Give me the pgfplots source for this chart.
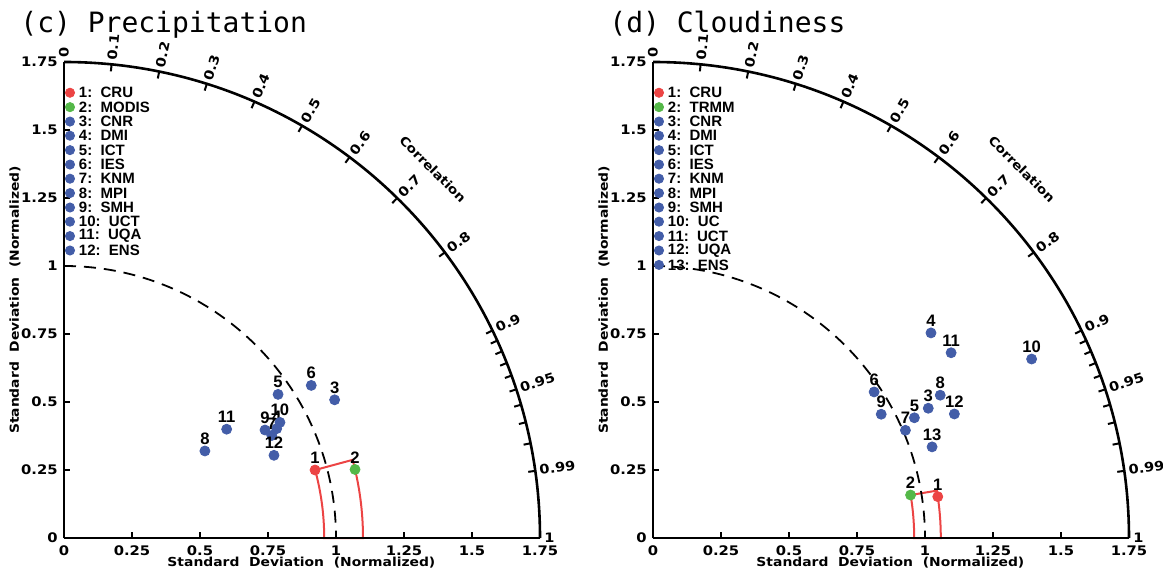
\documentclass[border=0pt]{standalone}
\usepackage{pgfplots}
\pgfplotsset{compat=1.18}
\usepackage{fontspec}
\setmainfont{Liberation Sans}
\newfontfamily\tickfam[FakeStretch=1.12]{DejaVu Sans}
\newfontfamily\titlefam{DejaVu Sans Mono}
\newfontfamily\legfam{Liberation Sans}
\definecolor{cred}{RGB}{236,68,68}
\definecolor{cgreen}{RGB}{84,184,72}
\definecolor{cblue}{RGB}{67,93,168}
\newcommand\tickfont{\tickfam\bfseries\fontsize{6.6pt}{7pt}\selectfont}
\newcommand\labfont{\tickfam\bfseries\fontsize{6.2pt}{7pt}\selectfont}
\newcommand\corrfont{\tickfam\bfseries\fontsize{6.5pt}{7pt}\selectfont}
\newcommand\legfont{\legfam\bfseries\fontsize{7.5pt}{8pt}\selectfont}
\newcommand\numfont{\legfam\bfseries\fontsize{8.3pt}{9pt}\selectfont}
\newcommand\titlefont{\titlefam\fontsize{14pt}{16pt}\selectfont}

% background of one Taylor panel: #1 x offset, #2 inner radius, #3 outer radius, #4 angle, #5 title
\newcommand\taylorbg[5]{%
\begin{scope}[shift={(#1,0)}]
  \draw[cred, line width=1pt] (0:#2) arc[start angle=0,end angle=#4,radius=#2] -- (#4:#3) arc[start angle=#4,end angle=0,radius=#3] -- cycle;
  \draw[dash pattern=on 6pt off 4pt, line width=0.9pt] (90:136pt) arc[start angle=90,end angle=0,radius=136pt];
  \draw[line width=1.3pt] (90:238pt) arc[start angle=90,end angle=0,radius=238pt];
  \foreach \c in {0.1,0.2,0.3,0.4,0.5,0.6,0.7,0.8,0.9,0.91,0.92,0.93,0.94,0.95,0.96,0.97,0.98,0.99}{
    \pgfmathsetmacro\a{acos(\c)}
    \draw[line width=1pt] (\a:238pt) -- (\a:234.5pt);
  }
  \foreach \c in {0,0.1,0.2,0.3,0.4,0.5,0.6,0.7,0.8,0.9,0.95,0.99,1}{
    \pgfmathsetmacro\a{acos(\c)}
    \node[rotate=\a, anchor=west, inner sep=0pt, font=\corrfont] at (\a:240pt) {\c};
  }
  \node[rotate=-45, font=\labfont] at (45:260.8pt) {Correlation};
  \node[font=\labfont] at (118.7pt,-12.5pt) {Standard\ \ Deviation\ \ (Normalized)};
  \node[font=\labfont, rotate=90] at (-24.5pt,119pt) {Standard\ \ Deviation\ \ (Normalized)};
  \node[font=\titlefont, anchor=base west, inner sep=0pt] at (-22pt,252.5pt) {#5};
\end{scope}}

\pgfplotsset{
  taylor/.style={
    x=136pt, y=136pt, xmin=0, xmax=1.75, ymin=0, ymax=1.75,
    axis x line*=bottom, axis y line*=left, clip=false,
    axis line style={line width=1.3pt},
    tick align=inside, major tick length=3pt, tick style={line width=1pt, black},
    xtick={0,0.25,0.5,0.75,1,1.25,1.5,1.75},
    ytick={0,0.25,0.5,0.75,1,1.25,1.5,1.75},
    xticklabels={0,0.25,0.5,0.75,1,1.25,1.5,1.75},
    yticklabels={0,0.25,0.5,0.75,1,1.25,1.5,1.75},
    ticklabel style={font=\tickfont, inner sep=0pt},
    xticklabel style={yshift=-3.5pt},
    yticklabel style={xshift=-3pt},
  },
  pts/.style={only marks, mark=*, mark size=2.5pt, color=#1,
    mark options={fill=#1, draw=#1},
    nodes near coords, point meta=explicit symbolic,
    nodes near coords align={above},
    every node near coord/.style={font=\numfont, text=black, anchor=south, inner sep=0pt, yshift=3pt}},
  leg/.style={only marks, mark=*, mark size=2.3pt, color=#1,
    mark options={fill=#1, draw=#1},
    nodes near coords, point meta=explicit symbolic,
    nodes near coords align={right},
    every node near coord/.style={font=\legfont, text=black, anchor=west, inner sep=0pt, xshift=4.3pt}},
}

\begin{document}
\begin{tikzpicture}
\taylorbg{0pt}{130.1pt}{149.5pt}{15.15}{(c) Precipitation}
\taylorbg{294.5pt}{130.6pt}{143.9pt}{9.47}{(d) Cloudiness}

% (c) Precipitation
\begin{axis}[taylor, at={(0pt,0pt)}, anchor=south west]
\addplot[pts=cblue] coordinates {
 (0.995,0.508) [3]
 (0.782,0.402) [4]
 (0.787,0.528) [5]
 (0.909,0.561) [6]
 (0.764,0.377) [7]
 (0.518,0.320) [8]
 (0.739,0.397) [9]
 (0.794,0.425) [10]
 (0.598,0.400) [11]
 (0.772,0.304) [12]
};
\addplot[pts=cred] coordinates {(0.923,0.250) [1]};
\addplot[pts=cgreen] coordinates {(1.070,0.252) [2]};
\addplot[leg=cred] coordinates {(0.022,1.637) [1:\ \ CRU]};
\addplot[leg=cgreen] coordinates {(0.022,1.584) [2:\ \ MODIS]};
\addplot[leg=cblue] coordinates {
 (0.022,1.531) [3:\ \ CNR]
 (0.022,1.479) [4:\ \ DMI]
 (0.022,1.426) [5:\ \ ICT]
 (0.022,1.373) [6:\ \ IES]
 (0.022,1.321) [7:\ \ KNM]
 (0.022,1.268) [8:\ \ MPI]
 (0.022,1.215) [9:\ \ SMH]
 (0.022,1.163) [10:\ \ UCT]
 (0.022,1.110) [11:\ \ UQA]
 (0.022,1.057) [12:\ \ ENS]
};
\end{axis}

% (d) Cloudiness
\begin{axis}[taylor, at={(294.5pt,0pt)}, anchor=south west]
\addplot[pts=cblue] coordinates {
 (1.012,0.477) [3]
 (1.022,0.754) [4]
 (0.961,0.442) [5]
 (0.813,0.537) [6]
 (0.928,0.396) [7]
 (1.056,0.525) [8]
 (0.839,0.455) [9]
 (1.392,0.658) [10]
 (1.096,0.681) [11]
 (1.108,0.456) [12]
 (1.026,0.335) [13]
};
\addplot[pts=cred] coordinates {(1.047,0.152) [1]};
\addplot[pts=cgreen] coordinates {(0.947,0.158) [2]};
\addplot[leg=cred] coordinates {(0.022,1.637) [1:\ \ CRU]};
\addplot[leg=cgreen] coordinates {(0.022,1.584) [2:\ \ TRMM]};
\addplot[leg=cblue] coordinates {
 (0.022,1.531) [3:\ \ CNR]
 (0.022,1.479) [4:\ \ DMI]
 (0.022,1.426) [5:\ \ ICT]
 (0.022,1.373) [6:\ \ IES]
 (0.022,1.321) [7:\ \ KNM]
 (0.022,1.268) [8:\ \ MPI]
 (0.022,1.215) [9:\ \ SMH]
 (0.022,1.163) [10:\ \ UC]
 (0.022,1.110) [11:\ \ UCT]
 (0.022,1.057) [12:\ \ UQA]
 (0.022,1.004) [13:\ \ ENS]
};
\end{axis}

\pgfresetboundingbox
\useasboundingbox (-32pt,-18pt) rectangle (549.5pt,269pt);
\end{tikzpicture}
\end{document}
